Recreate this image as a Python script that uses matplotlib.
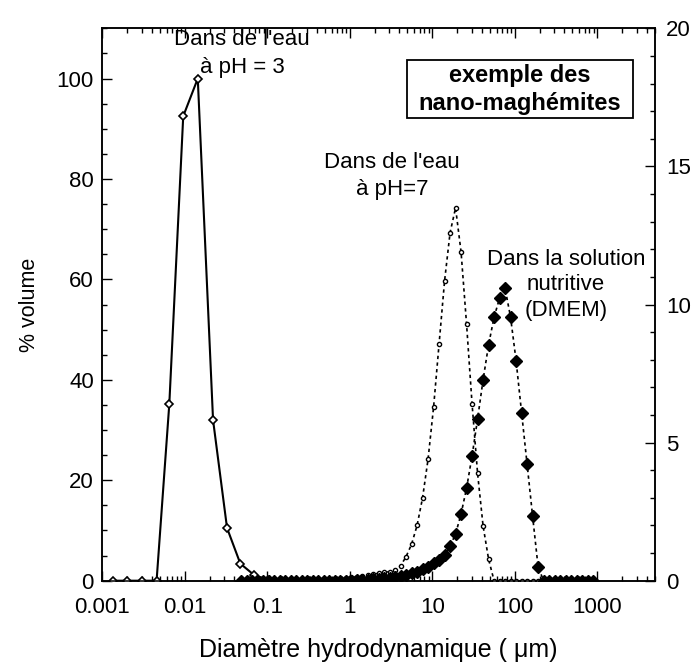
import matplotlib
matplotlib.use('Agg')
import matplotlib.pyplot as plt
from matplotlib.ticker import MultipleLocator, LogLocator, NullFormatter
from matplotlib.patches import Rectangle

plt.rcParams['font.family'] = ['Liberation Sans', 'DejaVu Sans']

# eau pH = 3 (axe de gauche)
d_ph3 = [0.00135, 0.00201, 0.0030, 0.00455, 0.00649, 0.00957, 0.01436,
         0.0220, 0.0325, 0.0471, 0.0695, 0.102, 0.150, 0.221, 0.326, 0.48]
v_ph3 = [0, 0, 0, 0, 35.2, 92.5, 100, 32.0, 10.5, 3.4, 1.1, 0.2, 0, 0, 0, 0]

# diametres communs aux mesures pH 7 et DMEM
d_dls = [0.04809, 0.05607, 0.06536, 0.07621, 0.08885, 0.1036, 0.1208, 0.1408,
         0.1642, 0.1914, 0.2232, 0.2602, 0.3034, 0.3537, 0.4124, 0.4809,
         0.5607, 0.6536, 0.7621, 0.8885, 1.036, 1.208, 1.408, 1.642, 1.914,
         2.232, 2.602, 3.034, 3.537, 4.124, 4.809, 5.607, 6.536, 7.621,
         8.885, 10.36, 12.08, 14.08, 16.42, 19.14, 22.32, 26.02, 30.34,
         35.37, 41.24, 48.09, 56.07, 65.36, 76.21, 88.85, 103.6, 120.8,
         140.8, 164.2, 191.4, 223.2, 260.2, 303.4, 353.7, 412.4, 480.9,
         560.7, 653.6, 762.1, 888.5]

# eau pH = 7 (axe de droite)
v_ph7 = [0, 0, 0, 0, 0, 0, 0, 0, 0, 0, 0, 0, 0, 0, 0, 0.02,
         0.03, 0.05, 0.07, 0.10, 0.13, 0.15, 0.17, 0.21, 0.23,
         0.27, 0.30, 0.33, 0.39, 0.54, 0.87, 1.32, 2.0, 3.0,
         4.4, 6.28, 8.57, 10.85, 12.6, 13.5, 11.9, 9.29, 6.4,
         3.89, 1.99, 0.78, 0, 0, 0, 0, 0, 0,
         0, 0, 0, 0, 0, 0, 0, 0, 0,
         0, 0, 0, 0]

# solution nutritive DMEM (axe de droite)
v_dmem = [0, 0, 0, 0, 0, 0, 0, 0, 0, 0, 0, 0, 0, 0, 0, 0,
          0, 0, 0, 0, 0, 0.01, 0.02, 0.03, 0.05,
          0.06, 0.08, 0.10, 0.12, 0.17, 0.22, 0.27, 0.33, 0.41,
          0.49, 0.63, 0.75, 0.93, 1.26, 1.69, 2.42, 3.35, 4.52,
          5.85, 7.27, 8.54, 9.54, 10.23, 10.59, 9.54, 7.97, 6.09,
          4.23, 2.35, 0.51, 0, 0, 0, 0, 0, 0,
          0, 0, 0, 0]

xticks = [0.001, 0.01, 0.1, 1, 10, 100, 1000]
xticklabels = ['0.001', '0.01', '0.1', '1', '10', '100', '1000']

fig = plt.figure(figsize=(6.95, 6.62), dpi=100)
ax = fig.add_axes([0.1472, 0.1228, 0.7952, 0.8344])
ax2 = ax.twinx()

ax.plot(d_ph3, v_ph3, color='black', lw=1.5, marker='D', ms=4.5,
        mfc='white', mec='black', mew=1.2, zorder=3)
ax2.plot(d_dls, v_ph7, color='black', lw=1.2, ls=(0, (2, 2)), marker='o',
         ms=3, mfc='white', mec='black', mew=1.0)
ax2.plot(d_dls, v_dmem, color='black', lw=1.2, ls=(0, (2, 2)), marker='D',
         ms=6, mfc='black', mec='black')

ax.set_xscale('log')
ax.set_xlim(0.001, 5000)
ax.set_ylim(0, 110)
ax2.set_ylim(0, 20)

ax.set_xticks(xticks)
ax.set_xticklabels(xticklabels)
ax.xaxis.set_minor_locator(LogLocator(base=10, subs=range(2, 10), numticks=50))
ax.xaxis.set_minor_formatter(NullFormatter())
ax.yaxis.set_major_locator(MultipleLocator(20))
ax.yaxis.set_minor_locator(MultipleLocator(5))
ax2.yaxis.set_major_locator(MultipleLocator(5))
ax2.yaxis.set_minor_locator(MultipleLocator(1))

ax.tick_params(which='both', direction='in', top=True, right=False,
               labelsize=16, width=1, pad=12)
ax.tick_params(axis='y', pad=6)
ax.tick_params(which='major', length=7)
ax.tick_params(which='minor', length=3.5)
ax2.tick_params(which='both', direction='in', labelsize=16, width=1, pad=8)
ax2.tick_params(which='major', length=7)
ax2.tick_params(which='minor', length=3.5)
for a in (ax, ax2):
    for s in a.spines.values():
        s.set_linewidth(1.1)

ax.set_ylabel('% volume', fontsize=15.5, labelpad=12)
ax.set_xlabel('Diamètre hydrodynamique ( μm)', fontsize=18, labelpad=14)

ax.text(0.0493, 105.0, "Dans de l'eau\nà pH = 3", ha='center', va='center',
        fontsize=16, linespacing=1.45)
ax.text(3.24, 80.6, "Dans de l'eau\nà pH=7", ha='center', va='center',
        fontsize=16, linespacing=1.35)
ax.text(417, 58.9, "Dans la solution\nnutritive\n(DMEM)", ha='center',
        va='center', fontsize=16, linespacing=1.3)

ax.add_patch(Rectangle((0.551, 0.8376), 0.409, 0.105, transform=ax.transAxes,
                       fill=False, ec='black', lw=1.3, zorder=5))
ax.text(0.7557, 0.889, 'exemple des\nnano-maghémites', transform=ax.transAxes,
        ha='center', va='center', fontsize=17, fontweight='bold',
        linespacing=1.25)

fig.savefig('out.png', dpi=100)
